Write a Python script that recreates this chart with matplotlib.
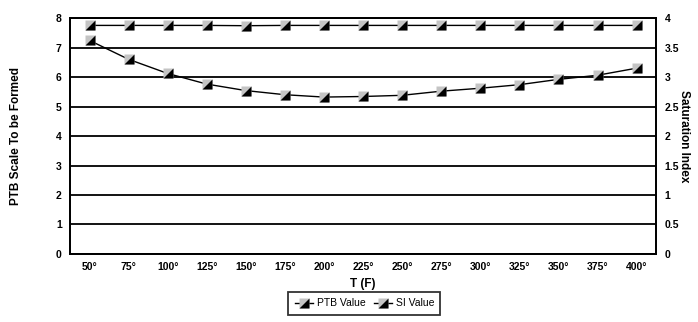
'''
PTB scale and saturation index vs temperature
'''
import matplotlib
matplotlib.use('Agg')
import matplotlib.pyplot as plt
from matplotlib.lines import Line2D

plt.rcParams['font.family'] = ['Liberation Sans', 'DejaVu Sans']

temps = ['50°', '75°', '100°', '125°', '150°', '175°', '200°', '225°',
         '250°', '275°', '300°', '325°', '350°', '375°', '400°']
ptb_value = [7.75, 7.75, 7.75, 7.75, 7.74, 7.75, 7.75, 7.75,
             7.75, 7.75, 7.75, 7.75, 7.75, 7.75, 7.75]
si_value = [3.62, 3.30, 3.06, 2.88, 2.77, 2.70, 2.66, 2.67,
            2.69, 2.76, 2.81, 2.87, 2.96, 3.03, 3.15]

x = list(range(len(temps)))
tri = [(-1, -1), (1, -1), (1, 1)]

fig = plt.figure(figsize=(6.98, 3.22), dpi=100)
ax = fig.add_axes([0.1003, 0.2112, 0.8397, 0.7328])
ax2 = ax.twinx()

# left axis series
ax.plot(x, ptb_value, '-', color='black', lw=1.0, zorder=3)
p1 = ax.plot(x, ptb_value, 's', color='#c4c4c4', ms=7.5, mec='none', zorder=4)[0]
p2 = ax.plot(x, ptb_value, ls='none', marker=tri, color='black', ms=7.5, mec='none', zorder=5)[0]

# right axis series
ax2.plot(x, si_value, '-', color='black', lw=1.0, zorder=3)
s1 = ax2.plot(x, si_value, 's', color='#c4c4c4', ms=7.5, mec='none', zorder=4)[0]
s2 = ax2.plot(x, si_value, ls='none', marker=tri, color='black', ms=7.5, mec='none', zorder=5)[0]

ax.set_xlim(-0.5, len(temps) - 0.5)
ax.set_ylim(0, 8)
ax2.set_ylim(0, 4)
ax.set_yticks(range(0, 9))
ax2.set_yticks([0, 0.5, 1, 1.5, 2, 2.5, 3, 3.5, 4])
ax2.set_yticklabels(['0', '0.5', '1', '1.5', '2', '2.5', '3', '3.5', '4'])
ax.set_xticks(x)
ax.set_xticklabels(temps)

ax.grid(axis='y', color='black', lw=1.3)
ax.set_axisbelow(True)
for a in (ax, ax2):
    a.tick_params(length=0, labelsize=7.5, pad=6)
    for sp in a.spines.values():
        sp.set_linewidth(1.3)
for lab in ax.get_xticklabels() + ax.get_yticklabels() + ax2.get_yticklabels():
    lab.set_fontweight('bold')

ax.set_xlabel('T (F)', fontsize=8.5, fontweight='bold', labelpad=4)
ax.set_ylabel('PTB Scale To be Formed', fontsize=8.5, fontweight='bold', labelpad=24)
ax2.set_ylabel('Saturation Index', fontsize=8.5, fontweight='bold', rotation=-90, labelpad=8)

l1 = Line2D([], [], color='black', lw=1.0)
leg = fig.legend([(l1, p1, p2), (l1, s1, s2)], ['PTB Value', 'SI Value'],
                 loc='upper center', bbox_to_anchor=(0.522, 0.093), ncol=2,
                 fontsize=7.5, frameon=True, fancybox=False, edgecolor='black',
                 handlelength=1.8, handletextpad=0.3, columnspacing=0.8,
                 borderpad=0.6, borderaxespad=0)
leg.get_frame().set_linewidth(1.3)

fig.savefig('out.png', dpi=100)
